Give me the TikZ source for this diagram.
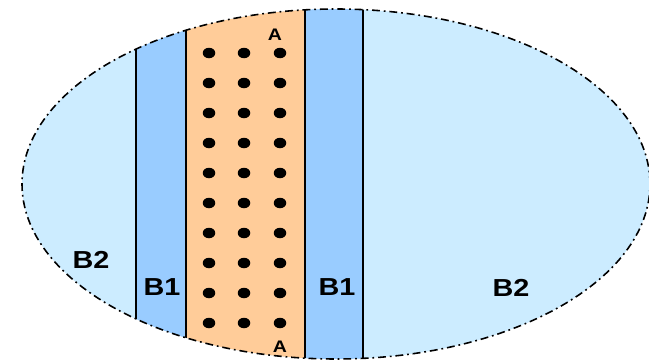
\documentclass[tikz,border=0pt]{standalone}
\usepackage{fontspec}
\setmainfont{Liberation Sans}
\definecolor{outerblue}{HTML}{CCECFF}
\definecolor{innerblue}{HTML}{99CCFF}
\definecolor{coreorange}{HTML}{FFCC99}

\begin{document}
\begin{tikzpicture}[
  zone/.style={font=\fontsize{14}{16}\selectfont\bfseries, xscale=1.17, transform shape},
  tag/.style={font=\fontsize{9.5}{11}\selectfont\bfseries, xscale=1.17, transform shape},
  rim/.style={draw=black, line width=0.9pt,
    dash pattern=on 4.5pt off 2.2pt on 1pt off 2.2pt},
  wall/.style={draw=black, line width=0.8pt}
]
\useasboundingbox (0,0) rectangle (12.98,7.18);

% -------- outer region --------
\fill[outerblue] (6.72,3.5) ellipse [x radius=6.28, y radius=3.5];

% -------- strips, cut to the ellipse --------
\begin{scope}
  \clip (6.72,3.5) ellipse [x radius=6.28, y radius=3.5];
  \fill[innerblue] (2.72,0) rectangle (3.72,7.18);
  \fill[coreorange] (3.72,0) rectangle (6.10,7.18);
  \fill[innerblue] (6.10,0) rectangle (7.26,7.18);
  \foreach \x in {2.72,3.72,6.10,7.26}
    \draw[wall] (\x,0) -- (\x,7.18);
\end{scope}

% -------- dots --------
\foreach \x in {4.18,4.88,5.60}
  \foreach \i in {0,...,9}
    \fill (\x,6.12-0.6*\i) ellipse [x radius=0.125, y radius=0.105];

% -------- border --------
\draw[rim] (6.72,3.5) ellipse [x radius=6.28, y radius=3.5];

% -------- labels --------
\node[tag] (atop) at (5.50,6.48) {A};
\node[tag] (abot) at (5.60,0.24) {A};
\node[zone] (b2l) at (1.82,1.98) {B2};
\node[zone] (b1l) at (3.24,1.44) {B1};
\node[zone] (b1r) at (6.74,1.44) {B1};
\node[zone] (b2r) at (10.22,1.42) {B2};

\end{tikzpicture}
\end{document}
